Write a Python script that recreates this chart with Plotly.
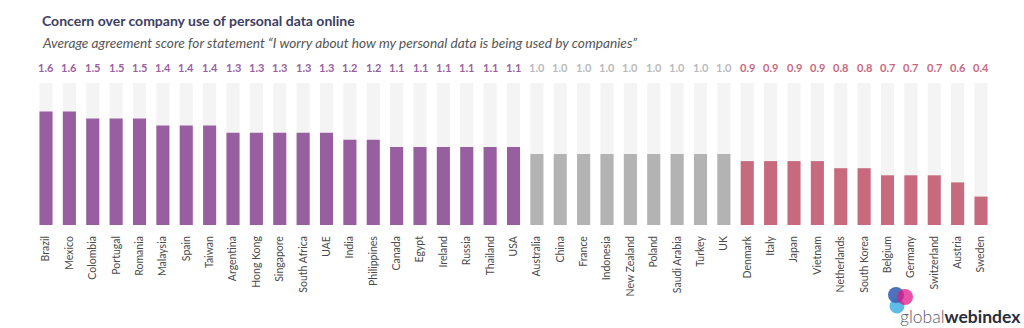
import plotly.graph_objects as go

countries = ["Brazil", "Mexico", "Colombia", "Portugal", "Romania", "Malaysia", "Spain", "Taiwan",
             "Argentina", "Hong Kong", "Singapore", "South Africa", "UAE", "India", "Philippines",
             "Canada", "Egypt", "Ireland", "Russia", "Thailand", "USA",
             "Australia", "China", "France", "Indonesia", "New Zealand", "Poland", "Saudi Arabia",
             "Turkey", "UK",
             "Denmark", "Italy", "Japan", "Vietnam", "Netherlands", "South Korea", "Belgium",
             "Germany", "Switzerland", "Austria", "Sweden"]
scores = [1.6, 1.6, 1.5, 1.5, 1.5, 1.4, 1.4, 1.4, 1.3, 1.3, 1.3, 1.3, 1.3, 1.2, 1.2,
          1.1, 1.1, 1.1, 1.1, 1.1, 1.1,
          1.0, 1.0, 1.0, 1.0, 1.0, 1.0, 1.0, 1.0, 1.0,
          0.9, 0.9, 0.9, 0.9, 0.8, 0.8, 0.7, 0.7, 0.7, 0.6, 0.4]
scale_max = 2.0

PURPLE, GREY, PINK = "#985fa0", "#b3b3b3", "#c76a7e"
LBL_PURPLE, LBL_GREY, LBL_PINK = "#9a5fa2", "#b9b9b9", "#c8687f"

def group(v):
    if v > 1.05:
        return PURPLE, LBL_PURPLE
    if v > 0.95:
        return GREY, LBL_GREY
    return PINK, LBL_PINK

bar_colors = [group(v)[0] for v in scores]
lbl_colors = [group(v)[1] for v in scores]

fig = go.Figure()
fig.add_trace(go.Bar(x=countries, y=[scale_max] * len(countries), marker_color="#f4f4f4",
                     marker_line_width=0, width=0.56, hoverinfo="skip"))
fig.add_trace(go.Bar(x=countries, y=scores, marker_color=bar_colors, marker_line_width=0,
                     width=0.56))

for c, v, col in zip(countries, scores, lbl_colors):
    fig.add_annotation(x=c, y=scale_max, text=f"<b>{v:.1f}</b>", showarrow=False,
                       yanchor="bottom", yshift=7,
                       font=dict(family="Lato", size=11, color=col))

W, H = 1024, 328
top, bottom = 83, 225
ph = bottom - top

def py(pix):
    return (bottom - pix) / ph

fig.add_annotation(xref="paper", yref="paper", x=40 / W, y=py(21), xanchor="left", yanchor="middle",
                   text="<b>Concern over company use of personal data online</b>", showarrow=False,
                   font=dict(family="Lato", size=14, color="#3c4062"))
fig.add_annotation(xref="paper", yref="paper", x=40 / W, y=py(43), xanchor="left", yanchor="middle",
                   text="<i>Average agreement score for statement \u201cI worry about how my personal data is being used by companies\u201d</i>",
                   showarrow=False, font=dict(family="Lato", size=13.7, color="#555555"))

# logo
for cx, cy, r, col in [(897, 306, 7.5, "rgba(85,184,232,0.95)"), (896, 295, 8, "rgba(59,100,180,0.9)"),
                       (905, 297, 8, "rgba(224,24,140,0.75)")]:
    fig.add_shape(type="circle", xref="paper", yref="paper",
                  x0=(cx - r) / W, x1=(cx + r) / W, y0=py(cy + r), y1=py(cy - r),
                  fillcolor=col, line_width=0, layer="above")
fig.add_annotation(xref="paper", yref="paper", x=1023 / W, y=py(316), xanchor="right", yanchor="middle",
                   text="<span style='font-weight:300;color:#555a66'>global</span><b style='color:#2a2d3a'>webindex</b>",
                   showarrow=False, font=dict(family="Lato", size=17.5, color="#2a2d3a"))

n = len(countries)
step = (981 - 46) / (n - 1)
x0 = -46 / step
x1 = (n - 1) + (W - 981) / step

fig.update_layout(
    width=W, height=H, barmode="overlay", showlegend=False,
    margin=dict(l=0, r=0, t=top, b=H - bottom),
    plot_bgcolor="white", paper_bgcolor="white",
    xaxis=dict(range=[x0, x1], showgrid=False, zeroline=False, showline=False, ticks="",
               tickangle=-90, ticklabelstandoff=8,
               tickfont=dict(family="Lato", size=10.5, color="#4a4a4a")),
    yaxis=dict(range=[0, scale_max], visible=False, fixedrange=True),
)
fig.write_html("out.html")
